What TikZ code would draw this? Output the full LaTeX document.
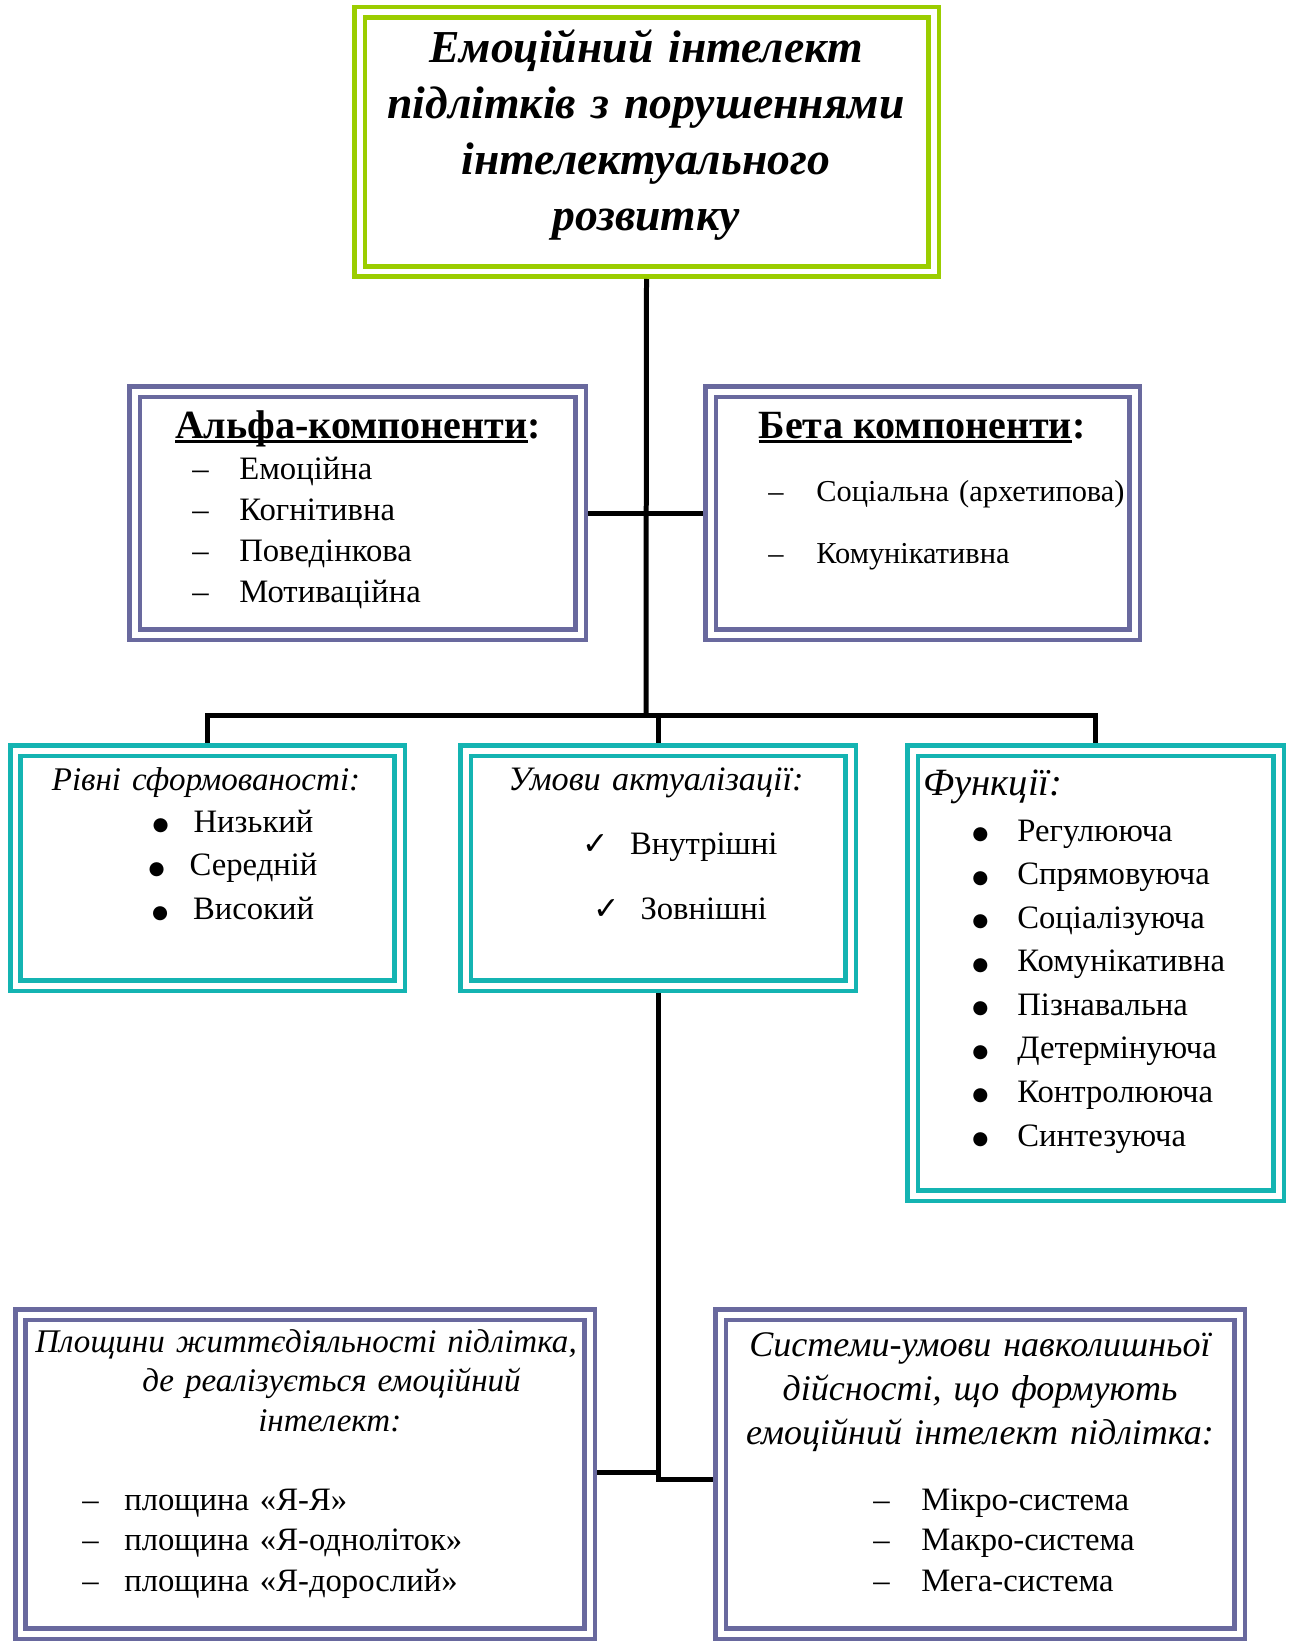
\documentclass[tikz,border=0pt]{standalone}
\usepackage{fontspec}
\setmainfont{Liberation Serif}
\newfontfamily\symfont{DejaVu Sans}
\usepackage{xcolor}
\usetikzlibrary{positioning,fit,calc}

\definecolor{limegreen}{RGB}{155,205,0}
\definecolor{slateviolet}{RGB}{105,105,158}
\definecolor{seateal}{RGB}{20,180,178}

% list marks
\newcommand{\ditem}[1][0.8cm]{\makebox[#1][l]{–}}
\newcommand{\bitem}[1][0.82cm]{\makebox[#1][l]{\raisebox{0.1ex}{\symfont\fontsize{10.5}{10.5}\selectfont ●}}}
\newcommand{\citem}{\makebox[0.95cm][l]{{\symfont\fontsize{18}{18}\selectfont ✓}}}
% underline close to the baseline
\newsavebox{\ulbox}
\newcommand{\uln}[1]{\sbox{\ulbox}{#1}\rlap{\rule[-2.8pt]{\wd\ulbox}{1.6pt}}\usebox{\ulbox}}

\begin{document}
\begin{tikzpicture}[
  x=0.02cm, y=-0.02cm,
  dblframe/.style={draw=#1, line width=0.09cm, double=white, double distance=0.12cm,
    fill=white, inner sep=0pt, outer sep=0.15cm},
  greenbox/.style={dblframe=limegreen},
  violetbox/.style={dblframe=slateviolet},
  tealbox/.style={dblframe=seateal},
  link/.style={line width=0.1cm},
  body/.style={inner sep=0pt, text width=#1, font=\fontsize{18.6}{23.5}\selectfont},
  body/.default=8cm,
  titletxt/.style={inner sep=0pt, text width=11cm, align=center,
    font=\bfseries\itshape\fontsize{26}{31.7}\selectfont},
  headtxt/.style={inner sep=0pt, font=\bfseries\fontsize{22.8}{26}\selectfont},
  itxt/.style={inner sep=0pt, text width=#1, font=\itshape\fontsize{18.8}{22.5}\selectfont},
  itxt/.default=8cm
]
\useasboundingbox (0,0) rectangle (1291,1642);

% boxes
\node[greenbox, fit={(359.5,12.5) (933.5,271.5)}] (title) {};
\node[violetbox, fit={(134.5,391.5) (580.5,634.5)}] (alpha) {};
\node[violetbox, fit={(710.5,391.5) (1134.5,634.5)}] (beta) {};
\node[tealbox, fit={(15.5,750.5) (399.5,985.5)}] (rivni) {};
\node[tealbox, fit={(465.5,750.5) (850.5,985.5)}] (umovy) {};
\node[tealbox, fit={(912.5,750.5) (1278.5,1195.5)}] (funk) {};
\node[violetbox, fit={(20.5,1314.5) (589.5,1633.5)}] (plosh) {};
\node[violetbox, fit={(720.5,1314.5) (1239.5,1633.5)}] (system) {};

% texts
\node[titletxt, anchor=base] (titletext) at (646,63)
  {Емоційний інтелект\\підлітків з порушеннями\\інтелектуального\\розвитку};

\node[headtxt, anchor=base] (alphahead) at (358,438) {\uln{Альфа-компоненти}:};
\node[body, anchor=base west, align=left] (alphalist) at (192,479)
  {\ditem[0.94cm]Емоційна\\\ditem[0.94cm]Когнітивна\\\ditem[0.94cm]Поведінкова\\\ditem[0.94cm]Мотиваційна};

\node[headtxt, anchor=base] (betahead) at (922,438) {\uln{Бета компоненти}:};
\node[inner sep=0pt, text width=9cm, align=left, anchor=base west,
  font=\fontsize{17.3}{35.8}\selectfont] (betalist) at (768,501)
  {\ditem[0.96cm]Соціальна (архетипова)\\\ditem[0.96cm]Комунікативна};

\node[itxt=7cm, anchor=base, align=center] (rivnihead) at (206,790) {Рівні сформованості:};
\node[body=6cm, anchor=base, align=center, font=\fontsize{18.6}{25}\selectfont] (rivnilist) at (233,832)
  {\bitem Низький\\\bitem Середній\\\bitem Високий};

\node[itxt=7cm, anchor=base, align=center, font=\itshape\fontsize{19.5}{22.5}\selectfont] (umovyhead) at (656,790) {Умови актуалізації:};
\node[body=6cm, anchor=base, align=center, font=\fontsize{18.6}{37}\selectfont] (umovylist) at (680,854)
  {\citem Внутрішні\\\citem Зовнішні};

\node[inner sep=0pt, anchor=base west, font=\itshape\fontsize{22}{26}\selectfont] (funkhead) at (923,795) {Функції:};
\node[body=7cm, anchor=base west, align=left, font=\fontsize{18.6}{24.8}\selectfont] (funklist) at (972,841)
  {\bitem[0.9cm]Регулююча\\\bitem[0.9cm]Спрямовуюча\\\bitem[0.9cm]Соціалізуюча\\\bitem[0.9cm]Комунікативна\\
   \bitem[0.9cm]Пізнавальна\\\bitem[0.9cm]Детермінуюча\\\bitem[0.9cm]Контролююча\\\bitem[0.9cm]Синтезуюча};

\node[itxt=11.5cm, anchor=base west, align=left] (ploshhead) at (35,1352)
  {Площини життєдіяльності підлітка,\\\hspace*{2.14cm}де реалізується емоційний\\\hspace*{4.46cm}інтелект:};
\node[body=9cm, anchor=base west, align=left, font=\fontsize{18.6}{23.3}\selectfont] (ploshlist) at (82,1510)
  {\ditem[0.84cm]площина «Я-Я»\\\ditem[0.84cm]площина «Я-одноліток»\\\ditem[0.84cm]площина «Я-дорослий»};

\node[itxt=10cm, anchor=base, align=center, font=\itshape\fontsize{20.5}{25.3}\selectfont] (systemhead) at (980,1356)
  {Системи-умови навколишньої\\дійсності, що формують\\емоційний інтелект підлітка:};
\node[body=7cm, anchor=base west, align=left, font=\fontsize{18.6}{23.3}\selectfont] (systemlist) at (873,1510)
  {\ditem[0.96cm]Мікро-система\\\ditem[0.96cm]Макро-система\\\ditem[0.96cm]Мега-система};

% connectors
\coordinate (bus) at (646,715);
\draw[link] (title.south) -- (bus);
\draw[link] (alpha.east) -- (beta.west);
\draw[link] (rivni.north) |- (bus) -| (funk.north);
\draw[link] (umovy.north) -- (umovy.north |- bus);
\draw[link] (umovy.south) |- ([yshift=-0.1cm]system.west);
\draw[link] ([yshift=0.03cm]plosh.east) -- ([yshift=0.03cm]plosh.east -| umovy.south);
\end{tikzpicture}
\end{document}
